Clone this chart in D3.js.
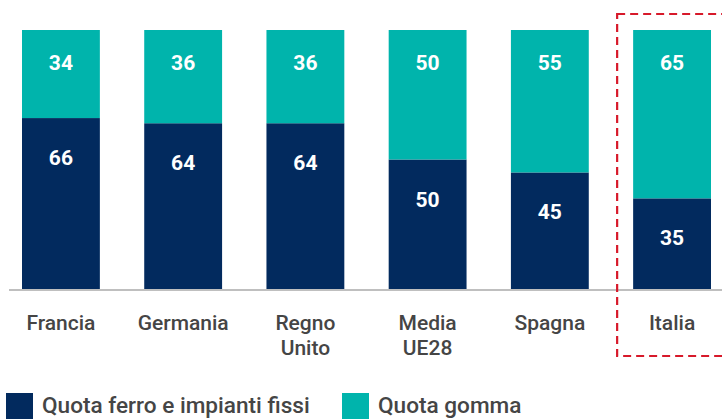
<head>
    <meta name="viewport" content="width=device-width, initial-scale=1">
    <style>
        body { margin: 0; background: #ffffff; }
        .lab { font-family: Roboto, sans-serif; font-weight: 500; fill: #454545; }
        .val { font-family: Roboto, sans-serif; font-weight: 700; fill: #ffffff; }
    </style>
    <script src="https://d3js.org/d3.v7.min.js"></script>
</head>
<body>
    <div id="chart"></div>
    <script>

        var categories = [["Francia"], ["Germania"], ["Regno", "Unito"], ["Media", "UE28"], ["Spagna"], ["Italia"]];
        var ferro = [66, 64, 64, 50, 45, 35];
        var gomma = [34, 36, 36, 50, 55, 65];
        var legendLabels = ["Quota ferro e impianti fissi", "Quota gomma"];

        var colFerro = "#022a5e",
            colGomma = "#00b4ac";

        var W = 722, H = 419;

        var svg = d3.select("#chart").append("svg")
            .attr("width", W)
            .attr("height", H);

        var names = categories.map(d => d.join(" "));

        var x = d3.scaleBand()
            .domain(names)
            .range([22, 711])
            .paddingInner(0.363)
            .paddingOuter(0);

        var y = d3.scaleLinear()
            .domain([0, 100])
            .range([289, 30]);

        var data = names.map((n, i) => ({name: n, lines: categories[i], ferro: ferro[i], gomma: gomma[i]}));

        // bars
        var bars = svg.append("g");

        bars.selectAll(".ferro")
            .data(data)
            .enter()
            .append("rect")
            .attr("x", d => x(d.name))
            .attr("width", x.bandwidth())
            .attr("y", d => y(d.ferro))
            .attr("height", d => y(0) - y(d.ferro))
            .attr("fill", colFerro);

        bars.selectAll(".gomma")
            .data(data)
            .enter()
            .append("rect")
            .attr("x", d => x(d.name))
            .attr("width", x.bandwidth())
            .attr("y", d => y(d.ferro + d.gomma))
            .attr("height", d => y(d.ferro) - y(d.ferro + d.gomma))
            .attr("fill", colGomma);

        // value labels
        bars.selectAll(".vg")
            .data(data)
            .enter()
            .append("text")
            .attr("class", "val")
            .attr("font-size", 21)
            .attr("x", d => x(d.name) + x.bandwidth() / 2)
            .attr("y", d => y(d.ferro + d.gomma) + 33)
            .attr("text-anchor", "middle")
            .attr("dominant-baseline", "central")
            .text(d => d.gomma);

        bars.selectAll(".vf")
            .data(data)
            .enter()
            .append("text")
            .attr("class", "val")
            .attr("font-size", 21)
            .attr("x", d => x(d.name) + x.bandwidth() / 2)
            .attr("y", d => y(d.ferro) + 40)
            .attr("text-anchor", "middle")
            .attr("dominant-baseline", "central")
            .text(d => d.ferro);

        // baseline
        svg.append("line")
            .attr("x1", 9)
            .attr("x2", W)
            .attr("y1", y(0) + 1)
            .attr("y2", y(0) + 1)
            .attr("stroke", "#aaaaaa")
            .attr("stroke-width", 1.5);

        // category labels, one text per line
        var labs = svg.append("g");
        data.forEach(function(d) {
            d.lines.forEach(function(t, i) {
                labs.append("text")
                    .attr("class", "lab")
                    .attr("font-size", 21)
                    .attr("text-anchor", "middle")
                    .attr("dominant-baseline", "central")
                    .attr("x", x(d.name) + x.bandwidth() / 2)
                    .attr("y", 323 + i * 24.8)
                    .text(t);
            });
        });

        // highlight box around Italia
        var xi = x("Italia");
        svg.append("rect")
            .attr("x", xi - 16)
            .attr("y", 14)
            .attr("width", 200)
            .attr("height", 342)
            .attr("fill", "none")
            .attr("stroke", "#d7192a")
            .attr("stroke-width", 2.2)
            .style("stroke-dasharray", ("8, 5"));

        // legend
        var legend = svg.append("g");
        var legX = [6, 342];
        var legCol = [colFerro, colGomma];

        legendLabels.forEach(function(t, i) {
            legend.append("rect")
                .attr("x", legX[i])
                .attr("y", 393)
                .attr("width", 27)
                .attr("height", 27)
                .attr("fill", legCol[i]);
            legend.append("text")
                .attr("class", "lab")
                .attr("font-size", 22.6)
                .attr("x", legX[i] + 36)
                .attr("y", 413)
                .text(t);
        });

    </script>
</body>
